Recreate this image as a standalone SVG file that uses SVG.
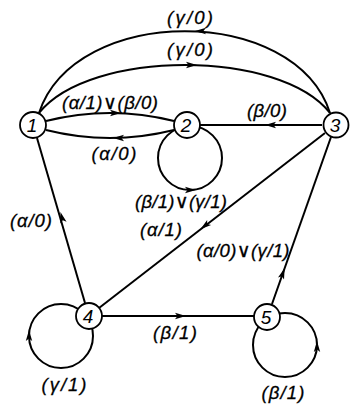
<svg xmlns="http://www.w3.org/2000/svg" width="350" height="404" viewBox="0 0 350 404">
<style>
.e{fill:none;stroke:#000;stroke-width:2}
.n circle{fill:#fff;stroke:#000;stroke-width:1.8}
.n text{font-family:"Liberation Sans","DejaVu Sans",sans-serif;font-style:italic;font-size:19px;text-anchor:middle;fill:#000}
.l{font-family:"Liberation Sans","DejaVu Sans",sans-serif;font-style:italic;font-size:18.5px;text-anchor:middle;fill:#000;stroke:#000;stroke-width:0.3}
.o{font-family:"DejaVu Sans",sans-serif;font-style:normal;font-size:19px}
</style>
<defs>
<path id="ah" d="M2,0 L-9,-3.2 L-6.5,0 L-9,3.2 Z" fill="#000"/>
</defs>
<g id="connectors">
<path class="e" d="M39,113 C75,4 295,4 330,113"/>
<path class="e" d="M39,113 C90,49 280,49 330,113"/>
<path class="e" d="M46,121 Q110,105 174,121"/>
<path class="e" d="M174,130 Q110,146 46,130"/>
<path class="e" d="M322,125 L200,125"/>
<path class="e" d="M85,303 L37,138"/>
<path class="e" d="M325,133 L99,308"/>
<path class="e" d="M272,304 L331,137"/>
<path class="e" d="M102,316 L254,316"/>
<circle class="e" cx="190" cy="158" r="32"/>
<circle class="e" cx="61" cy="336" r="32"/>
<circle class="e" cx="285" cy="345" r="32"/>
<use href="#ah" transform="translate(197,31) rotate(180)"/>
<use href="#ah" transform="translate(195,65)"/>
<use href="#ah" transform="translate(119,113)"/>
<use href="#ah" transform="translate(115,138) rotate(180)"/>
<use href="#ah" transform="translate(267,125) rotate(180)"/>
<use href="#ah" transform="translate(61,214) rotate(-106)"/>
<use href="#ah" transform="translate(202,228) rotate(142.2)"/>
<use href="#ah" transform="translate(284,270) rotate(-70.5)"/>
<use href="#ah" transform="translate(184,316)"/>
<use href="#ah" transform="translate(194,190)"/>
<use href="#ah" transform="translate(29,332) rotate(-90)"/>
<use href="#ah" transform="translate(317,343) rotate(-90)"/>
</g>
<g id="labels">
<text class="l" x="190" y="24" textLength="46" lengthAdjust="spacing">(γ/0)</text>
<text class="l" x="190" y="56" textLength="46" lengthAdjust="spacing">(γ/0)</text>
<text class="l" x="110" y="109" textLength="96" lengthAdjust="spacing">(α/1)<tspan class="o">∨</tspan>(β/0)</text>
<text class="l" x="267" y="117" textLength="40" lengthAdjust="spacing">(β/0)</text>
<text class="l" x="114" y="160" textLength="45" lengthAdjust="spacing">(α/0)</text>
<text class="l" x="181" y="208" textLength="92" lengthAdjust="spacing">(β/1)<tspan class="o">∨</tspan>(γ/1)</text>
<text class="l" x="31" y="227" textLength="42" lengthAdjust="spacing">(α/0)</text>
<text class="l" x="161" y="236" textLength="42" lengthAdjust="spacing">(α/1)</text>
<text class="l" x="243" y="257" textLength="93" lengthAdjust="spacing">(α/0)<tspan class="o">∨</tspan>(γ/1)</text>
<text class="l" x="175" y="339" textLength="44" lengthAdjust="spacing">(β/1)</text>
<text class="l" x="64" y="391" textLength="45" lengthAdjust="spacing">(γ/1)</text>
<text class="l" x="283" y="399" textLength="43" lengthAdjust="spacing">(β/1)</text>
</g>
<g id="node1" class="n"><circle cx="33" cy="125" r="13"/><text x="32" y="132">1</text></g>
<g id="node2" class="n"><circle cx="187" cy="125" r="13"/><text x="186" y="132">2</text></g>
<g id="node3" class="n"><circle cx="336" cy="125" r="12.5"/><text x="335" y="132">3</text></g>
<g id="node4" class="n"><circle cx="89" cy="316" r="13"/><text x="88" y="323">4</text></g>
<g id="node5" class="n"><circle cx="267" cy="317" r="13"/><text x="266" y="324">5</text></g>
</svg>
